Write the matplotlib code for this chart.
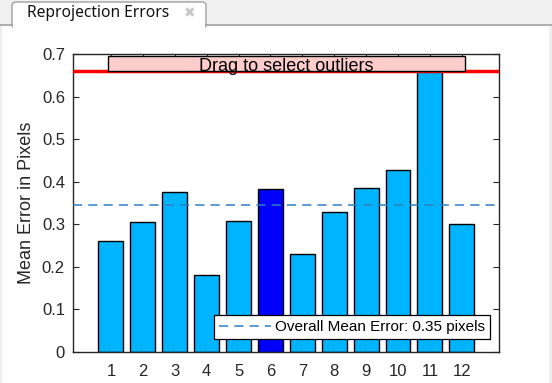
import matplotlib.pyplot as plt
from matplotlib.patches import Rectangle, FancyBboxPatch
import numpy as np

# per-image reprojection errors
images = [1, 2, 3, 4, 5, 6, 7, 8, 9, 10, 11, 12]
mean_errors = [0.262, 0.306, 0.377, 0.180, 0.308, 0.384, 0.230, 0.329, 0.386, 0.428, 0.665, 0.301]
selected = [6]
outlier_threshold = 0.66
overall_mean = 0.346
yticks = [0, 0.1, 0.2, 0.3, 0.4, 0.5, 0.6, 0.7]

plt.rcParams['font.family'] = ['Liberation Sans', 'DejaVu Sans']

fig = plt.figure(figsize=(5.52, 3.83), dpi=100)
fig.patch.set_facecolor('white')

# window tab strip
W, H = 552.0, 383.0
fig.patches.append(Rectangle((0, 1 - 24 / H), 1, 24 / H, transform=fig.transFigure,
                             facecolor='#f0f0f0', edgecolor='none', zorder=0))
fig.lines.append(plt.Line2D([0, 1], [1 - 24.5 / H, 1 - 24.5 / H], transform=fig.transFigure,
                            color='#a0a0a0', lw=1.2))
tab = FancyBboxPatch((12 / W, 1 - 28 / H), (206 - 12) / W, 26 / H,
                     boxstyle='round,pad=0,rounding_size=0.008', transform=fig.transFigure,
                     facecolor='white', edgecolor='#a0a0a0', lw=1.0, zorder=1)
fig.patches.append(tab)
fig.patches.append(Rectangle((12.8 / W, 1 - 32 / H), (205.2 - 12.8) / W, 8 / H, transform=fig.transFigure,
                             facecolor='white', edgecolor='none', zorder=2))
fig.patches.append(Rectangle((549 / W, 0), 3 / W, 1 - 24 / H, transform=fig.transFigure,
                             facecolor='#eeeeee', edgecolor='none', zorder=0))
fig.patches.append(Rectangle((0, 0), 2 / W, 1 - 24 / H, transform=fig.transFigure,
                             facecolor='#eeeeee', edgecolor='none', zorder=0))
fig.text(27 / W, 1 - 13 / H, 'Reprojection Errors', fontsize=11.2, va='center', ha='left',
         family=['Noto Sans', 'DejaVu Sans'], color='#111111')
fig.text(190 / W, 1 - 13 / H, '\u2716', fontsize=10, va='center', ha='center', color='#c8c8c8',
         family=['DejaVu Sans'])

ax = fig.add_axes([73.3 / W, 1 - 352 / H, (498.5 - 73.3) / W, (352 - 54.3) / H])

colors = ['#0000ff' if i in selected else '#00b4ff' for i in images]
ax.bar(images, mean_errors, width=0.78, color=colors, edgecolor='black', linewidth=1.0, zorder=2)

ax.axhline(overall_mean, color='#2e7fc4', lw=1.1, ls=(0, (6, 4)), zorder=3,
           label='Overall Mean Error: %.2f pixels' % overall_mean)
ax.axhline(outlier_threshold, color='#ff0000', lw=2.5, zorder=4)

ax.add_patch(Rectangle((0.9, outlier_threshold), 11.2, 0.695 - outlier_threshold,
                       facecolor='#ffcccc', edgecolor='black', lw=1.0, zorder=5))
ax.text(6.5, 0.672, 'Drag to select outliers', ha='center', va='center', fontsize=13, zorder=6)

ax.set_xlim(-0.18, 13.15)
ax.set_ylim(0, 0.7)
ax.set_xticks(images)
ax.set_yticks(yticks)
ax.set_yticklabels(['0' if v == 0 else '%.1f' % v for v in yticks])
ax.tick_params(direction='in', length=4, width=0.8, top=True, right=True, labelsize=12,
               colors='#262626', pad=6)
ax.tick_params(axis='x', pad=9)
for s in ax.spines.values():
    s.set_linewidth(1.0)
    s.set_color('#262626')
ax.set_ylabel('Mean Error in Pixels', fontsize=13, color='#262626', labelpad=5)

leg = ax.legend(loc='lower right', bbox_to_anchor=(0.98, 0.043), fontsize=11, frameon=True,
                fancybox=False, edgecolor='black', handlelength=3.4, borderpad=0.35,
                handletextpad=0.25, borderaxespad=0, framealpha=1)
leg.get_frame().set_linewidth(0.9)
leg.set_zorder(7)

fig.savefig('out.png', dpi=100)
